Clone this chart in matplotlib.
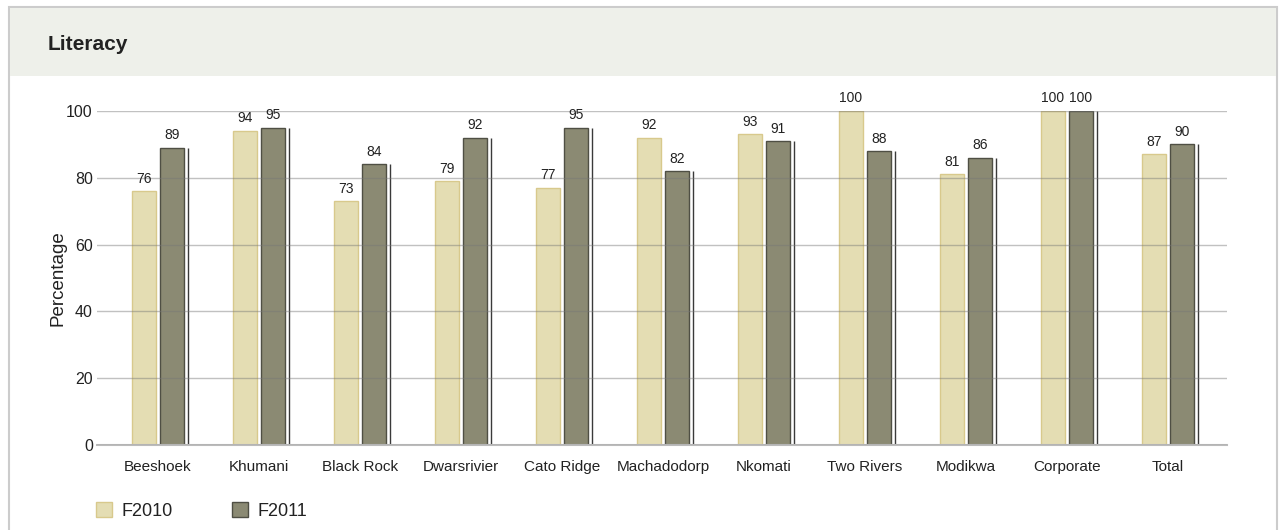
import matplotlib
matplotlib.use("Agg")
import matplotlib.pyplot as plt
from matplotlib.patches import Rectangle, Patch

categories = ['Beeshoek', 'Khumani', 'Black Rock', 'Dwarsrivier', 'Cato Ridge',
              'Machadodorp', 'Nkomati', 'Two Rivers', 'Modikwa', 'Corporate', 'Total']
f2010 = [76, 94, 73, 79, 77, 92, 93, 100, 81, 100, 87]
f2011 = [89, 95, 84, 92, 95, 82, 91, 88, 86, 100, 90]
series_names = ['F2010', 'F2011']
yticks = [0, 20, 40, 60, 80, 100]

W, H = 1281, 530
plt.rcParams['font.family'] = ['Liberation Sans', 'DejaVu Sans']
ink = '#222222'

fig = plt.figure(figsize=(W / 100, H / 100), dpi=100)

# panel frame + header band
fig.patches.append(Rectangle((9 / W, -0.05), (1277 - 9) / W, (H - 7) / H + 0.05,
                             transform=fig.transFigure, facecolor='white',
                             edgecolor='#cccccc', lw=1.5, zorder=-2))
fig.patches.append(Rectangle((10 / W, (H - 76) / H), (1276 - 10) / W, (76 - 8) / H,
                             transform=fig.transFigure, facecolor='#eef0ea',
                             edgecolor='none', zorder=-1))
fig.text(48 / W, (H - 44) / H, 'Literacy', fontsize=15, fontweight='bold',
         color=ink, va='center', ha='left')

ax = fig.add_axes([97 / W, (H - 445) / H, (1227 - 97) / W, (445 - 111) / H])
ax.set_zorder(2)
ax.patch.set_alpha(0)

x = list(range(len(categories)))
bw = 0.238
off = 0.1386
c2010 = '#e4ddb3'
c2011 = '#8b8a73'

b1 = ax.bar([i - off for i in x], f2010, width=bw, color=c2010, edgecolor='#d8c98c', lw=1)
b2 = ax.bar([i + off for i in x], f2011, width=bw, color=c2011, edgecolor='#4f4f44', lw=1)
ax.vlines([i + 0.297 for i in x], 0, f2011, color='#3a3a3a', lw=1)

for bars, vals in ((b1, f2010), (b2, f2011)):
    for r, v in zip(bars, vals):
        ax.annotate(str(v), (r.get_x() + r.get_width() / 2, v), xytext=(0, 4),
                    textcoords='offset points', ha='center', va='bottom',
                    fontsize=10, color=ink, annotation_clip=False)

ax.set_xlim(-0.604, 10.584)
ax.set_ylim(0, 100)
ax.set_yticks(yticks)
ax.set_xticks(x)
ax.set_xticklabels(categories, fontsize=11, color=ink)
for t in ax.get_yticklabels():
    t.set_fontsize(11.5)
    t.set_color(ink)
ax.tick_params(axis='x', length=0, pad=11)
ax.tick_params(axis='y', length=0, pad=3)
ax.yaxis.grid(True, color='#777777', alpha=0.45, lw=1)
ax.set_axisbelow(False)
for s in ('top', 'right', 'left'):
    ax.spines[s].set_visible(False)
ax.spines['bottom'].set_color('#bbbbbb')
ax.spines['bottom'].set_linewidth(1.5)
ax.set_ylabel('Percentage', fontsize=13.5, color=ink)
ax.yaxis.label.set_va('center')
ax.yaxis.set_label_coords((58 - 97) / (1227 - 97), 0.5)

handles = [Patch(facecolor=c2010, edgecolor='#d8c98c', label=series_names[0]),
           Patch(facecolor=c2011, edgecolor='#4f4f44', label=series_names[1])]
fig.legend(handles=handles, loc='center left', bbox_to_anchor=(96 / W, 19 / H),
           ncol=2, frameon=False, fontsize=13, handlelength=0.9, handleheight=0.9,
           handletextpad=0.5, columnspacing=3.3, borderpad=0, borderaxespad=0,
           labelcolor=ink)

fig.savefig('out.png', dpi=100)
